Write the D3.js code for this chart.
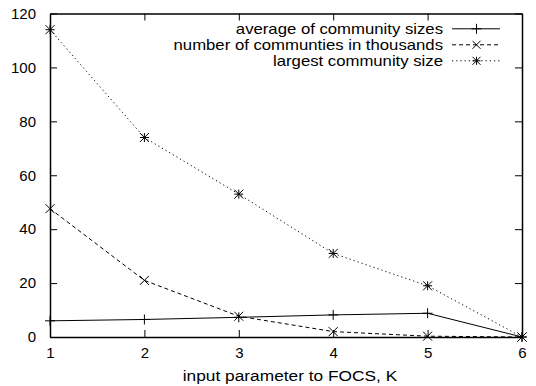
<!DOCTYPE html>
<html>
<head>
<meta charset="utf-8">
<script src="https://cdn.jsdelivr.net/npm/d3@7/dist/d3.min.js"></script>
<style>
  html, body { margin: 0; padding: 0; background: #fff; }
  svg { display: block; font-family: "Liberation Sans", Arial, Helvetica, sans-serif; }
</style>
</head>
<body>
<svg id="chart" width="536" height="386"></svg>
<script>
// FOCS parameter K and the three measured series
const kValues = [1, 2, 3, 4, 5, 6];
const avgCommunitySize = [6.0, 6.5, 7.3, 8.2, 8.8, 0];
const numCommunitiesK = [47.6, 21.0, 7.7, 2.0, 0.3, 0];
const largestCommunity = [114, 74, 53, 31, 19, 0];

const xTicks = [1, 2, 3, 4, 5, 6];
const yTicks = [0, 20, 40, 60, 80, 100, 120];

const seriesNames = [
  "average of community sizes",
  "number of communties in thousands",
  "largest community size"
];

const series = [
  { name: seriesNames[0], values: avgCommunitySize, dash: null, marker: "plus" },
  { name: seriesNames[1], values: numCommunitiesK, dash: "4,3", marker: "cross" },
  { name: seriesNames[2], values: largestCommunity, dash: "1.2,3", marker: "star" }
];

const svg = d3.select("#chart");
const margin = { left: 50, right: 14, top: 13.5, bottom: 49 };
const W = 536, H = 386;
const x = d3.scaleLinear().domain([1, 6]).range([margin.left, W - margin.right]);
const y = d3.scaleLinear().domain([0, 120]).range([H - margin.bottom, margin.top]);

const tickLen = 7;
const g = svg.append("g");

// axes on all four sides (ticks mirrored inward)
const axisBottomG = g.append("g").attr("transform", `translate(0,${y(0)})`)
  .call(d3.axisBottom(x).tickValues(xTicks).tickFormat(d3.format("d"))
    .tickSizeInner(-tickLen).tickSizeOuter(0).tickPadding(10));
const axisTopG = g.append("g").attr("transform", `translate(0,${y(120)})`)
  .call(d3.axisTop(x).tickValues(xTicks).tickSizeInner(-tickLen).tickSizeOuter(0).tickFormat(""));
const axisLeftG = g.append("g").attr("transform", `translate(${x(1)},0)`)
  .call(d3.axisLeft(y).tickValues(yTicks).tickFormat(d3.format("d"))
    .tickSizeInner(-tickLen).tickSizeOuter(0).tickPadding(14));
const axisRightG = g.append("g").attr("transform", `translate(${x(6)},0)`)
  .call(d3.axisRight(y).tickValues(yTicks).tickSizeInner(-tickLen).tickSizeOuter(0).tickFormat(""));

[axisBottomG, axisTopG, axisLeftG, axisRightG].forEach(a => {
  a.selectAll("path.domain").attr("stroke", "#000").attr("stroke-width", 1.5);
  a.selectAll(".tick line").attr("stroke", "#000").attr("stroke-width", 1);
  a.selectAll(".tick text").attr("fill", "#000").attr("font-size", 15)
    .attr("font-family", "Liberation Sans, Arial, sans-serif");
});

// wide-set text: slightly condensed height, full width
const stretchX = 1.17;

// x axis title
svg.append("text")
  .attr("transform", `translate(${(x(1) + x(6)) / 2 + 4},381) scale(${stretchX},1)`)
  .attr("text-anchor", "middle").attr("font-size", 14.8).attr("fill", "#000")
  .text("input parameter to FOCS, K");

// marker drawing
function drawMarker(sel, type, cx, cy, r) {
  const p = d3.path();
  if (type === "plus" || type === "star") {
    p.moveTo(cx - r, cy); p.lineTo(cx + r, cy);
    p.moveTo(cx, cy - r); p.lineTo(cx, cy + r);
  }
  if (type === "cross" || type === "star") {
    p.moveTo(cx - r, cy - r); p.lineTo(cx + r, cy + r);
    p.moveTo(cx - r, cy + r); p.lineTo(cx + r, cy - r);
  }
  sel.append("path").attr("d", p.toString())
    .attr("stroke", "#000").attr("stroke-width", 1).attr("fill", "none");
}

const line = d3.line().x((d, i) => x(kValues[i])).y(d => y(d));

series.forEach(s => {
  g.append("path")
    .datum(s.values)
    .attr("d", line)
    .attr("fill", "none")
    .attr("stroke", "#000")
    .attr("stroke-width", 1)
    .attr("stroke-dasharray", s.dash);
  const mg = g.append("g");
  s.values.forEach((v, i) => drawMarker(mg, s.marker, x(kValues[i]), y(v), s.marker === "plus" ? 5 : 4.5));
});

// legend
const legendTextX = 443;
const legendRows = [28.8, 44.8, 60.8];
series.forEach((s, i) => {
  const ly = legendRows[i];
  svg.append("text")
    .attr("transform", `translate(${legendTextX},${ly + 5}) scale(${stretchX},1)`)
    .attr("text-anchor", "end").attr("font-size", 14.3).attr("fill", "#000")
    .text(s.name);
  svg.append("line")
    .attr("x1", 452).attr("x2", 500).attr("y1", ly).attr("y2", ly)
    .attr("stroke", "#000").attr("stroke-width", 1)
    .attr("stroke-dasharray", s.dash);
  drawMarker(svg, s.marker, 476.5, ly, s.marker === "plus" ? 5 : 4);
});
</script>
</body>
</html>
